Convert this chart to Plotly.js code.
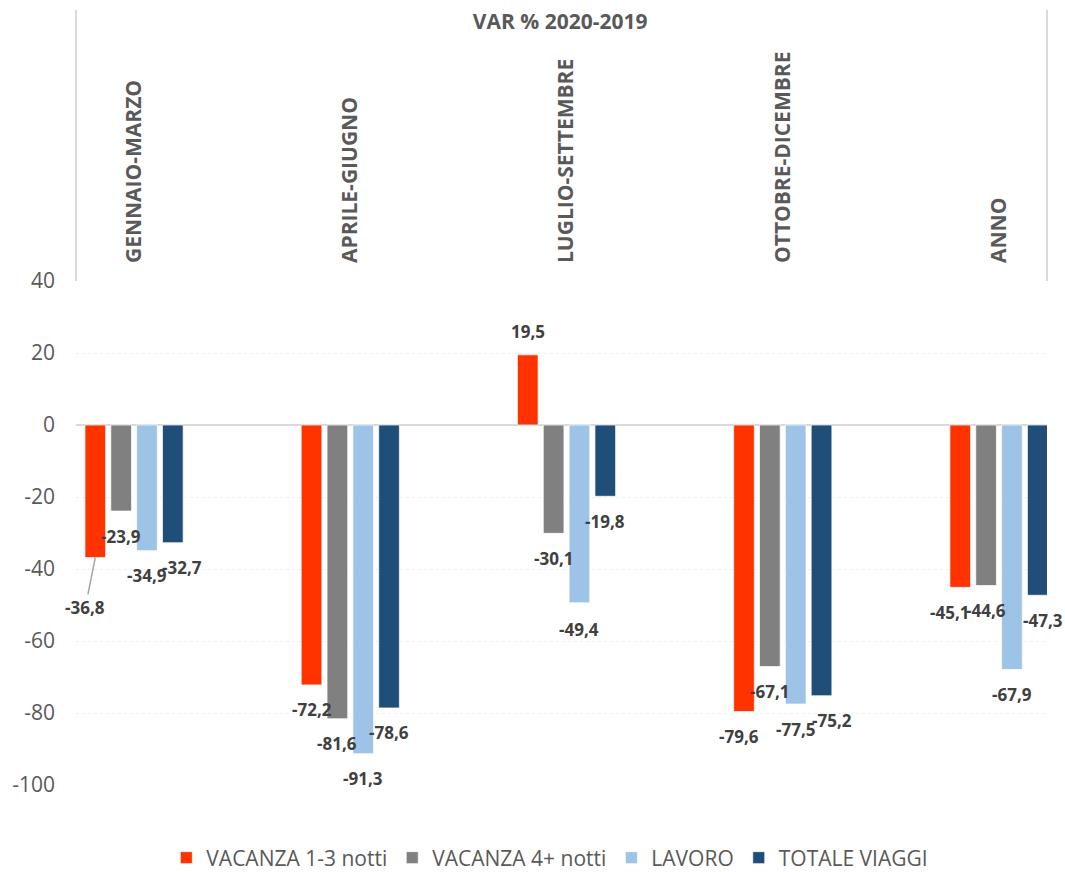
<!DOCTYPE html>
<html>
<head>
<meta charset="utf-8">
<script src="https://cdn.plot.ly/plotly-3.0.1.min.js"></script>
<style>html,body{margin:0;padding:0;background:#fff;}#chart{width:1065px;height:872px;}</style>
</head>
<body>
<div id="chart"></div>
<script>
const categories = ['GENNAIO-MARZO', 'APRILE-GIUGNO', 'LUGLIO-SETTEMBRE', 'OTTOBRE-DICEMBRE', 'ANNO'];
const seriesNames = ['VACANZA 1-3 notti', 'VACANZA 4+ notti', 'LAVORO', 'TOTALE VIAGGI'];
const vacanza13 = [-36.8, -72.2, 19.5, -79.6, -45.1];
const vacanza4 = [-23.9, -81.6, -30.1, -67.1, -44.6];
const lavoro = [-34.9, -91.3, -49.4, -77.5, -67.9];
const totaleViaggi = [-32.7, -78.6, -19.8, -75.2, -47.3];
const yTickValues = [40, 20, 0, -20, -40, -60, -80, -100];
const yTickLabels = ['40', '20', '0', '-20', '-40', '-60', '-80', '-100'];

const seriesValues = [vacanza13, vacanza4, lavoro, totaleViaggi];
const colors = ['#FF3300', '#808080', '#9DC3E6', '#1F4E79'];
const FONT = 'Open Sans, Liberation Sans, sans-serif';
const bargap = 0.522;
const nSeries = seriesValues.length;
const slot = (1 - bargap) / nSeries;

// small label nudges (pixels) to mimic the reference placement: key "series-category"
const nudges = {'0-0': {dx: -10, dy: 50, arrow: true}, '0-3': {dx: -5}, '0-4': {dx: -11}, '3-0': {dx: 9}, '3-3': {dx: 10}, '3-4': {dx: 5}, '2-2': {dy: 2}};

const fmt = v => v.toFixed(1).replace('.', ',');

const traces = seriesValues.map((vals, i) => ({
  type: 'bar',
  name: seriesNames[i],
  x: categories,
  y: vals,
  marker: {color: colors[i], line: {color: 'rgba(255,255,255,0.7)', width: 1}},
  hoverinfo: 'skip'
}));

const annotations = [];
seriesValues.forEach((vals, i) => {
  vals.forEach((v, j) => {
    const n = nudges[i + '-' + j] || {};
    const xpos = j + (i - (nSeries - 1) / 2) * slot;
    const base = {
      x: xpos, y: v, xref: 'x', yref: 'y',
      text: '<b>' + fmt(v) + '</b>',
      font: {family: FONT, size: 17, color: '#404040'},
    };
    if (n.arrow) {
      annotations.push(Object.assign(base, {
        showarrow: true, arrowhead: 0, arrowwidth: 1.5, arrowcolor: '#a6a6a6',
        ax: n.dx, ay: n.dy, standoff: 0
      }));
    } else {
      annotations.push(Object.assign(base, {
        showarrow: false, xanchor: 'center', yanchor: 'middle',
        xshift: n.dx || 0,
        yshift: v < 0 ? -(25 + (n.dy || 0)) : 23
      }));
    }
  });
});

const layout = {
  width: 1065, height: 872,
  margin: {l: 76, r: 18, t: 281, b: 87, autoexpand: false},
  paper_bgcolor: '#ffffff', plot_bgcolor: '#ffffff',
  font: {family: FONT, color: '#595959'},
  barmode: 'group',
  bargap: bargap,
  bargroupgap: 0.2,
  title: {
    text: '<b>VAR % 2020-2019</b>',
    font: {family: FONT, size: 21, color: '#595959'},
    x: 0.526, xanchor: 'center', xref: 'container',
    y: 1 - 22 / 872, yanchor: 'middle', yref: 'container'
  },
  xaxis: {
    type: 'category', side: 'top',
    range: [-0.2685, 4.222],
    tickangle: -90,
    tickfont: {family: FONT, size: 21, color: '#595959', weight: 'bold'},
    showgrid: false, zeroline: false, showline: false, ticks: '',
    ticklabelstandoff: 17,
    fixedrange: true
  },
  yaxis: {
    range: [-100, 40],
    tickmode: 'array', tickvals: yTickValues, ticktext: yTickLabels,
    tickfont: {family: FONT, size: 21, color: '#595959'},
    showgrid: true, gridcolor: '#f0f0f0', griddash: 'dot', gridwidth: 1,
    zeroline: true, zerolinecolor: '#d9d9d9', zerolinewidth: 2,
    showline: false, ticks: '', ticklabelstandoff: 20,
    fixedrange: true
  },
  legend: {
    orientation: 'h', x: 0.488, xanchor: 'center',
    yref: 'container', y: (872 - 858) / 872, yanchor: 'middle',
    font: {family: FONT, size: 21, color: '#595959'},
    traceorder: 'normal'
  },
  shapes: [
    {type: 'line', xref: 'paper', yref: 'paper', x0: 0, x1: 0, y0: 1, y1: 1 + 271 / 504, line: {color: '#d9d9d9', width: 2}},
    {type: 'line', xref: 'paper', yref: 'paper', x0: 1, x1: 1, y0: 1, y1: 1 + 271 / 504, line: {color: '#d9d9d9', width: 2}}
  ],
  annotations: annotations,
  showlegend: true
};

Plotly.newPlot('chart', traces, layout, {displayModeBar: false, staticPlot: true});
</script>
</body>
</html>
